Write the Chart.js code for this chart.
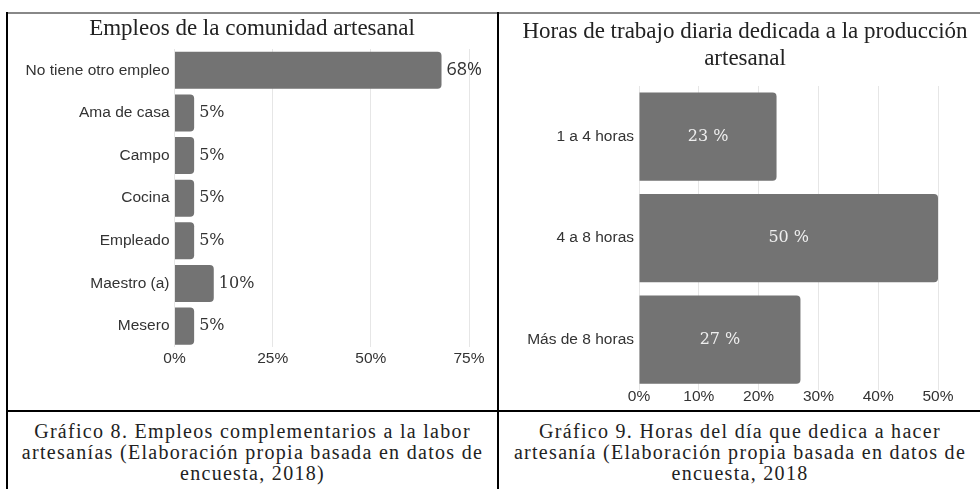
<!DOCTYPE html>
<html lang="es">
<head>
<meta charset="utf-8">
<title>Empleos y horas de trabajo artesanal</title>
<script src="https://cdn.jsdelivr.net/npm/chart.js@4.4.1/dist/chart.umd.min.js"></script>
<style>
  html, body { margin: 0; padding: 0; background: #fff; }
  body { position: relative; width: 980px; height: 489px; overflow: hidden; }
  .line { position: absolute; }
  .box { position: absolute; }
  .caption {
    position: absolute; top: 421px; text-align: center; white-space: nowrap;
    font-family: 'Liberation Serif', serif; font-size: 20px; line-height: 21px;
    letter-spacing: 1.3px; color: #222;
  }
</style>
</head>
<body>
  <div class="line" style="left:6px;top:12px;width:974px;height:2px;background:#888"></div>
  <div class="line" style="left:6px;top:12px;width:2px;height:477px;background:#000"></div>
  <div class="line" style="left:497px;top:12px;width:2px;height:477px;background:#000"></div>
  <div class="line" style="left:6px;top:410px;width:974px;height:2px;background:#000"></div>

  <div class="box" style="left:8px;top:14px;width:488px;height:395px"><canvas id="empleos"></canvas></div>
  <div class="box" style="left:499px;top:14px;width:474px;height:395px"><canvas id="horas"></canvas></div>

  <div class="caption" style="left:8px;width:489px">Gráfico 8. Empleos complementarios a la labor<br>artesanías (Elaboración propia basada en datos de<br>encuesta, 2018)</div>
  <div class="caption" style="left:499px;width:482px">Gráfico 9. Horas del día que dedica a hacer<br>artesanía (Elaboración propia basada en datos de<br>encuesta, 2018</div>

<script>
// chart 8
const empleosLabels = ['No tiene otro empleo', 'Ama de casa', 'Campo', 'Cocina', 'Empleado', 'Maestro (a)', 'Mesero'];
const empleosValues = [68, 5, 5, 5, 5, 10, 5];
const empleosTicks = [0, 25, 50, 75];

// chart 9
const horasLabels = ['1 a 4 horas', '4 a 8 horas', 'Más de 8 horas'];
const horasValues = [23, 50, 27];
const horasTicks = [0, 10, 20, 30, 40, 50];

const BAR = '#737373';
const TEXT = '#333';
const GRID = '#e6e6e6';

Chart.defaults.font.family = "'Liberation Sans', Arial, sans-serif";
Chart.defaults.color = TEXT;

// draws the value next to / inside each bar
const valueLabels = {
  id: 'valueLabels',
  afterDatasetsDraw(chart, args, opts) {
    const ctx = chart.ctx;
    const data = chart.data.datasets[0].data;
    ctx.save();
    ctx.textBaseline = 'middle';
    ctx.fillStyle = opts.color;
    chart.getDatasetMeta(0).data.forEach((bar, i) => {
      const text = data[i] + opts.suffix;
      ctx.font = (i === 0 && opts.firstFont) ? opts.firstFont : opts.font;
      if (opts.inside) {
        ctx.textAlign = 'center';
        ctx.fillText(text, (bar.x + bar.base) / 2, bar.y);
      } else {
        ctx.textAlign = 'left';
        ctx.fillText(text, bar.x + opts.offset, bar.y);
      }
    });
    ctx.restore();
  }
};

function barChart(id, labels, values, ticks, cfg) {
  return new Chart(document.getElementById(id), {
    type: 'bar',
    data: {
      labels,
      datasets: [{
        data: values,
        backgroundColor: BAR,
        borderWidth: 0,
        borderRadius: 4,
        barPercentage: cfg.barPct,
        categoryPercentage: 1,
      }],
    },
    plugins: [valueLabels],
    options: {
      indexAxis: 'y',
      responsive: true,
      maintainAspectRatio: false,
      animation: false,
      layout: { padding: cfg.padding },
      plugins: {
        legend: { display: false },
        tooltip: { enabled: false },
        title: {
          display: true,
          text: cfg.title,
          color: '#222',
          font: { family: "'Liberation Serif', serif", size: 23, weight: 'normal', lineHeight: cfg.titleLH },
          padding: cfg.titlePad,
        },
        valueLabels: cfg.labels,
      },
      scales: {
        x: {
          min: 0,
          max: ticks[ticks.length - 1],
          afterBuildTicks: (scale) => { scale.ticks = ticks.map(v => ({ value: v })); },
          grid: { color: GRID, drawTicks: false },
          border: { display: false },
          ticks: { padding: cfg.xTickPad, font: { size: 15.5 }, color: TEXT, callback: (v) => v + '%' },
        },
        y: {
          grid: { display: false, drawTicks: false },
          border: { display: false },
          ticks: { padding: 5, font: { size: 15.5 }, color: TEXT },
          afterFit: (scale) => { scale.width = cfg.yWidth; },
        },
        // empty space on the right so the title sits where it does in the original
        yr: {
          type: 'category',
          position: 'right',
          labels: [],
          grid: { display: false, drawTicks: false },
          border: { display: false },
          ticks: { display: false },
          afterFit: (scale) => { scale.width = cfg.rightGap; },
        },
      },
    },
  });
}

barChart('empleos', empleosLabels, empleosValues, empleosTicks, {
  title: 'Empleos de la comunidad artesanal',
  titleLH: 1.2,
  titlePad: { top: 1, bottom: 6.4 },
  padding: { left: 15, right: 15, top: 0, bottom: 39 },
  yWidth: 151.5,
  rightGap: 12,
  xTickPad: 2,
  barPct: 0.87,
  labels: {
    suffix: '%', offset: 5, inside: false, color: TEXT,
    font: "16px 'DejaVu Serif', serif",
    firstFont: "18px 'Open Sans', sans-serif",
  },
});

barChart('horas', horasLabels, horasValues, horasTicks, {
  title: ['Horas de trabajo diaria dedicada a la producción', 'artesanal'],
  titleLH: 1.174,
  titlePad: { top: 4, bottom: 14 },
  padding: { left: 18, right: 0, top: 0, bottom: 6 },
  yWidth: 122,
  rightGap: 35,
  xTickPad: -3,
  barPct: 0.87,
  labels: {
    suffix: ' %', inside: true, color: '#eeeeee',
    font: "16px 'DejaVu Serif', serif",
  },
});
</script>
</body>
</html>
